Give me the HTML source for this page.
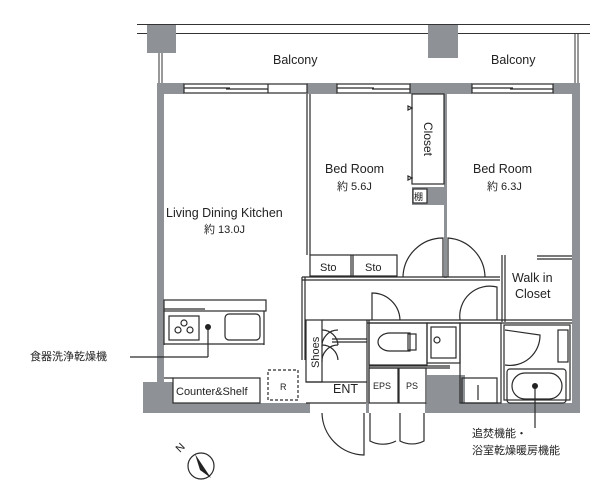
<!DOCTYPE html>
<html><head><meta charset="utf-8"><style>
html,body{margin:0;padding:0;background:#fff;}
svg{display:block;}
text{font-family:"Liberation Sans","Noto Sans CJK JP",sans-serif;fill:#222;}
</style></head><body>
<svg width="600" height="494" viewBox="0 0 600 494" xmlns="http://www.w3.org/2000/svg">
<g stroke="#333" stroke-width="1" fill="none">
<line x1="137" y1="24.5" x2="590" y2="24.5"/>
<line x1="137" y1="33.5" x2="590" y2="33.5"/>
<line x1="159" y1="53" x2="159" y2="83"/><line x1="162" y1="53" x2="162" y2="83"/>
<line x1="575" y1="34" x2="575" y2="83"/><line x1="578" y1="34" x2="578" y2="83"/>
</g>
<g fill="#8e9296">
<rect x="147" y="25" width="29" height="28"/>
<rect x="428" y="25" width="30" height="33"/>
<rect x="157" y="83" width="27" height="11"/>
<rect x="307" y="83" width="30" height="11"/>
<rect x="410" y="83" width="62" height="11"/>
<rect x="553" y="83" width="27" height="11"/>
<rect x="157" y="83" width="7" height="300"/>
<rect x="572" y="83" width="8" height="330"/>
<rect x="143" y="382" width="30" height="31"/>
<rect x="143" y="403" width="167" height="10"/>
<rect x="427" y="375" width="38" height="38"/>
<rect x="465" y="403" width="115" height="10"/>
<rect x="366" y="403" width="3" height="10"/>
<rect x="425" y="403" width="3" height="10"/>
<rect x="412" y="187" width="35" height="18"/>
<rect x="444" y="94" width="3" height="184"/>
</g>
<g stroke="#2a2a2a" stroke-width="1.2" fill="none">
<rect x="184" y="84" width="123" height="9" fill="#fff"/>
<line x1="184" y1="88" x2="230" y2="88"/><line x1="226" y1="89" x2="268" y2="89"/><line x1="268" y1="84" x2="268" y2="93"/>
<rect x="337" y="84" width="73" height="9" fill="#fff"/>
<line x1="337" y1="88" x2="374" y2="88"/><line x1="372" y1="89" x2="410" y2="89"/>
<rect x="472" y="84" width="81" height="9" fill="#fff"/>
<line x1="472" y1="88" x2="513" y2="88"/><line x1="510" y1="89" x2="553" y2="89"/>
<line x1="307" y1="94" x2="307" y2="255"/><line x1="310" y1="94" x2="310" y2="255"/>
<rect x="412" y="94" width="32" height="90"/>
<rect x="413" y="189" width="14" height="14" fill="#fff"/>
<path d="M412 108 l-4 -2 l0 4 z M412 178 l-4 -2 l0 4z"/>
<rect x="310" y="255" width="87" height="21"/>
<line x1="351" y1="255" x2="351" y2="276"/><line x1="353" y1="255" x2="353" y2="276"/>
<line x1="302" y1="277" x2="500" y2="277"/><line x1="302" y1="280" x2="500" y2="280"/>
<line x1="302" y1="277" x2="302" y2="360"/><line x1="305" y1="277" x2="305" y2="360"/>
<path d="M403 277 A40 40 0 0 1 443 238 L443 277"/>
<path d="M448 277 L448 238 A40 40 0 0 1 485 277"/>
<line x1="502" y1="255" x2="502" y2="322"/><line x1="505" y1="255" x2="505" y2="322"/>
<line x1="537" y1="256" x2="572" y2="256"/><line x1="537" y1="259" x2="572" y2="259"/>
<line x1="367" y1="320" x2="572" y2="320"/><line x1="367" y1="323" x2="572" y2="323"/>
<line x1="367" y1="320" x2="367" y2="403"/><line x1="369" y1="320" x2="369" y2="403"/>
<path d="M372 320 L372 293 A28 28 0 0 1 400 320"/>
<path d="M460 320 A30 30 0 0 1 497 287 L497 320"/>
<rect x="369" y="323" width="58" height="42"/>
<path d="M390 333 A12 9 0 0 0 390 351 L410 351 L410 333 Z"/>
<rect x="408" y="334" width="8" height="16"/>
<rect x="427" y="323" width="33" height="40"/>
<rect x="431" y="327" width="25" height="31"/>
<circle cx="437" cy="340" r="3"/>
<line x1="369" y1="366" x2="450" y2="366"/><line x1="369" y1="368" x2="450" y2="368"/>
<rect x="369" y="368" width="29" height="35"/><rect x="399" y="368" width="27" height="35"/>
<rect x="460" y="323" width="41" height="80"/>
<rect x="462" y="378" width="35" height="25"/>
<line x1="478" y1="385" x2="478" y2="400"/>
<rect x="504" y="325" width="66" height="75"/>
<path d="M505 330 L540 335 A30 30 0 0 1 505 365"/>
<rect x="558" y="330" width="10" height="32"/>
<rect x="507" y="369" width="59" height="34" rx="3"/>
<rect x="512" y="373" width="50" height="26" rx="13"/>
<rect x="306" y="320" width="16" height="62"/>
<line x1="322" y1="320" x2="367" y2="320"/><line x1="306" y1="382" x2="367" y2="382"/>
<line x1="306" y1="403" x2="366" y2="403"/>
<path d="M322 330 A16 16 0 0 1 338 345 M322 345 A16 16 0 0 1 338 360 M322 347 A16 16 0 0 1 338 330 M322 362 A16 16 0 0 1 338 345"/>
<line x1="332" y1="339" x2="367" y2="339"/><line x1="332" y1="342" x2="367" y2="342"/>
<path d="M322 413 A43 43 0 0 0 364 455 L364 413"/>
<path d="M370 413 L370 441 A28 28 0 0 0 396 441"/>
<path d="M400 413 L400 441 A26 26 0 0 0 424 441 L424 413"/>
<rect x="164" y="300" width="102" height="11"/>
<line x1="164" y1="309" x2="205" y2="309"/>
<line x1="164" y1="311" x2="164" y2="345"/><line x1="264" y1="311" x2="264" y2="345"/>
<line x1="164" y1="344" x2="264" y2="344"/>
<rect x="169" y="316" width="30" height="24"/>
<circle cx="178" cy="330" r="3"/><circle cx="190" cy="330" r="3"/><circle cx="184" cy="323" r="3"/>
<rect x="225" y="314" width="35" height="26" rx="4"/>
<line x1="208" y1="327" x2="208" y2="357"/><line x1="130" y1="357" x2="208" y2="357"/>
<line x1="164" y1="378" x2="173" y2="378"/>
<rect x="173" y="378" width="87" height="25"/>
<rect x="268" y="370" width="30" height="30" stroke-dasharray="3,2"/>
<line x1="535" y1="386" x2="535" y2="428"/>
<circle cx="201" cy="466" r="13"/>
</g>
<circle cx="208" cy="327" r="3" fill="#222"/>
<circle cx="535" cy="386" r="3" fill="#222"/>
<path d="M195 454 L211 478 L200 470 Z" fill="#222"/>
<text x="180" y="453" font-size="11" transform="rotate(-45 180 453)">N</text>
<g font-size="12.5">
<text x="273" y="64">Balcony</text>
<text x="491" y="64">Balcony</text>
<text x="325" y="173">Bed Room</text>
<text x="473" y="173">Bed Room</text>
<text x="166" y="217">Living Dining Kitchen</text>
<text x="512" y="282">Walk in</text>
<text x="515" y="298">Closet</text>
<text x="333" y="393">ENT</text>
</g>
<g font-size="11">
<text x="337" y="190">約 5.6J</text>
<text x="487" y="190">約 6.3J</text>
<text x="204" y="233">約 13.0J</text>
<text x="320" y="271">Sto</text>
<text x="365" y="271">Sto</text>
<text x="176" y="395">Counter&amp;Shelf</text>
<text x="280" y="390" font-size="9">R</text>
<text x="373" y="389" font-size="9">EPS</text>
<text x="406" y="389" font-size="9">PS</text>
<text x="414" y="200" font-size="9">棚</text>
<text x="30" y="360" font-size="11">食器洗浄乾燥機</text>
<text x="472" y="437" font-size="11">追焚機能・</text>
<text x="472" y="454" font-size="11">浴室乾燥暖房機能</text>
</g>
<text x="424" y="122" font-size="12" transform="rotate(90 424 122)">Closet</text>
<text x="319" y="368" font-size="11" transform="rotate(-90 319 368)">Shoes</text>
</svg>
</body></html>
